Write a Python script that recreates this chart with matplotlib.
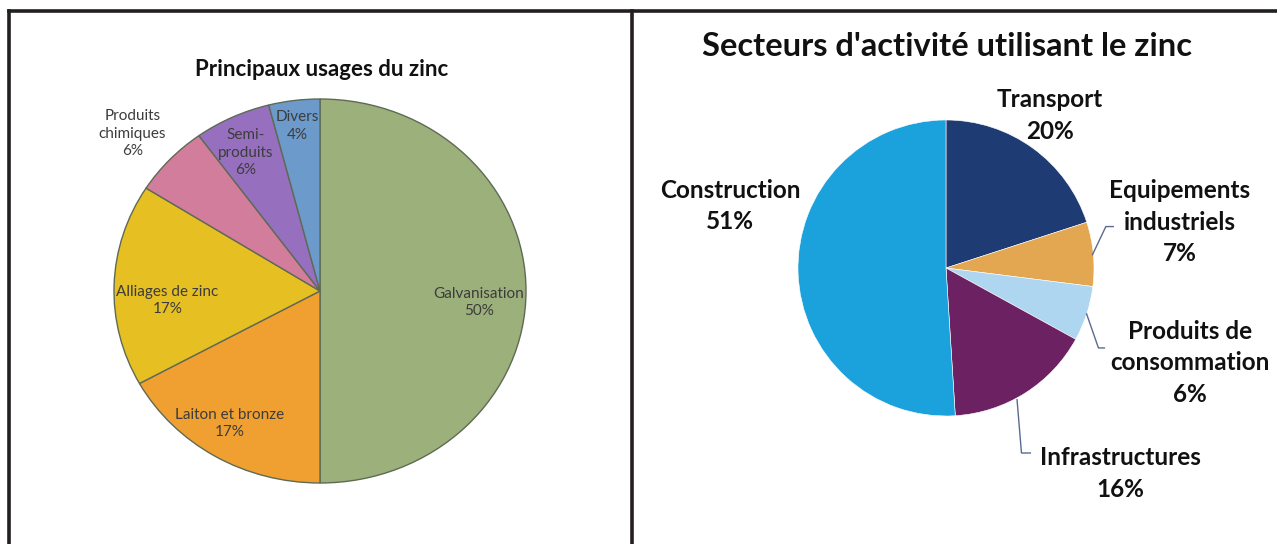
import matplotlib
matplotlib.use("Agg")
import matplotlib.pyplot as plt
from matplotlib.lines import Line2D

# ---- data ----
usage_labels = ["Galvanisation", "Laiton et bronze", "Alliages de zinc",
                "Produits\nchimiques", "Semi-\nproduits", "Divers"]
usage_values = [50, 17, 17, 6, 6, 4]
usage_colors = ["#9bb07a", "#f0a030", "#e6bf22", "#d27d9b", "#9670be", "#6b9acb"]

sector_labels = ["Transport", "Equipements\nindustriels", "Produits de\nconsommation",
                 "Infrastructures", "Construction"]
sector_values = [20, 7, 6, 16, 51]
sector_colors = ["#1f3b73", "#e3a752", "#aed6f1", "#6c2163", "#1ba1db"]

# ---- layout (pixels of a 1277x544 canvas) ----
W, H = 1277, 544
plt.rcParams['font.family'] = ['Lato', 'DejaVu Sans']

fig = plt.figure(figsize=(W / 100, H / 100), dpi=100)


def pie_axes(cx, cy, rx, ry):
    return fig.add_axes([(cx - rx) / W, 1 - (cy + ry) / H, 2 * rx / W, 2 * ry / H])


def fx(px):
    return px / W


def fy(py):
    return 1 - py / H


# panel frame lines
for xs, ys in [([9, 9], [11, 544]), ([9, 1277], [11, 11]), ([632, 632], [11, 544])]:
    fig.add_artist(Line2D([fx(x) for x in xs], [fy(y) for y in ys],
                          color="#231f20", lw=2.6, transform=fig.transFigure))

# ---- left pie ----
axl = pie_axes(320, 291, 206, 192)
axl.pie(usage_values, colors=usage_colors, startangle=90, counterclock=False,
        wedgeprops=dict(edgecolor="#5f6a55", linewidth=1.0))
axl.set_aspect('auto')
axl.set_xlim(-1, 1)
axl.set_ylim(-1, 1)

left_pos = [(0.77, -0.06), (-0.44, -0.69), (-0.74, -0.05),
            (-0.91, 0.82), (-0.36, 0.72), (-0.11, 0.86)]
for lab, val, (x, y) in zip(usage_labels, usage_values, left_pos):
    axl.text(x, y, f"{lab}\n{val}%", ha="center", va="center", fontsize=11,
             color="#3c3c3c", linespacing=1.32)

fig.text(fx(322), fy(69), "Principaux usages du zinc", ha="center", va="center",
         fontsize=16, fontweight="bold", color="#111111")

# ---- right pie ----
axr = pie_axes(946, 268, 148, 148)
axr.pie(sector_values, colors=sector_colors, startangle=90, counterclock=False,
        wedgeprops=dict(edgecolor="white", linewidth=0.4))
axr.set_aspect('auto')
axr.set_xlim(-1, 1)
axr.set_ylim(-1, 1)

right_pos = [(0.70, 1.03), (1.58, 0.31), (1.65, -0.64), (1.18, -1.39), (-1.46, 0.42)]
for lab, val, (x, y) in zip(sector_labels, sector_values, right_pos):
    axr.text(x, y, f"{lab}\n{val}%", ha="center", va="center", fontsize=17.5,
             fontweight="bold", color="#111111", linespacing=1.45)

leaders = [[(0.99, 0.09), (1.08, 0.28), (1.13, 0.28)],
           [(0.95, -0.31), (1.03, -0.54), (1.07, -0.54)],
           [(0.48, -0.89), (0.51, -1.25), (0.57, -1.25)]]
for pts in leaders:
    xs, ys = zip(*pts)
    axr.plot(xs, ys, color="#5a6a90", lw=1.0, clip_on=False)

fig.text(fx(947), fy(46), "Secteurs d'activité utilisant le zinc", ha="center",
         va="center", fontsize=23.5, fontweight="bold", color="#111111")

fig.savefig("out.png", dpi=100, facecolor="white")
